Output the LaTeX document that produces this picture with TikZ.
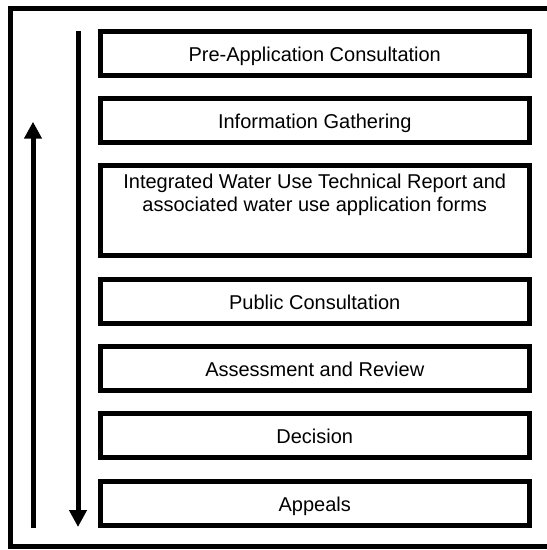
\documentclass[tikz,border=0pt]{standalone}
\usepackage{fontspec}
\setmainfont{Liberation Sans}
\usetikzlibrary{arrows.meta, positioning}

\begin{document}
\begin{tikzpicture}[x=1pt, y=-1pt, node distance=18.3pt,
  stage/.style={draw, line width=5pt, minimum width=428.5pt, minimum height=44pt, inner sep=0pt, text height=16pt, text depth=0pt, font=\fontsize{20}{22.7}\selectfont},
  flow/.style={line width=5pt, -{Triangle[length=17pt, width=17pt]}}]
\useasboundingbox (0,0) rectangle (547,550);
% Draw frame
\draw[line width=5pt] (10.5,8.7) rectangle (551,546.5);
% Draw stages
\node[stage] (preapp) at (314.75,53.25) {Pre-Application Consultation};
\node[stage, below=of preapp] (gather) {Information Gathering};
\node[stage, below=of gather, minimum height=90pt, text height=38pt, text depth=38pt] (report) {\parbox[c][63pt][t]{420pt}{\centering Integrated Water Use Technical Report and\\associated water use application forms}};
\node[stage, below=of report] (public) {Public Consultation};
\node[stage, below=of public] (assess) {Assessment and Review};
\node[stage, below=of assess] (decision) {Decision};
\node[stage, below=of decision] (appeals) {Appeals};
% Ends of the arrows
\coordinate (downstart) at (78,31);
\coordinate (downend) at (78,527);
\coordinate (upstart) at (33,527.7);
\coordinate (upend) at (33,121.7);
% Draw arrows
\draw[flow] (downstart) -- (downend);
\draw[flow] (upstart) -- (upend);
\end{tikzpicture}
\end{document}
